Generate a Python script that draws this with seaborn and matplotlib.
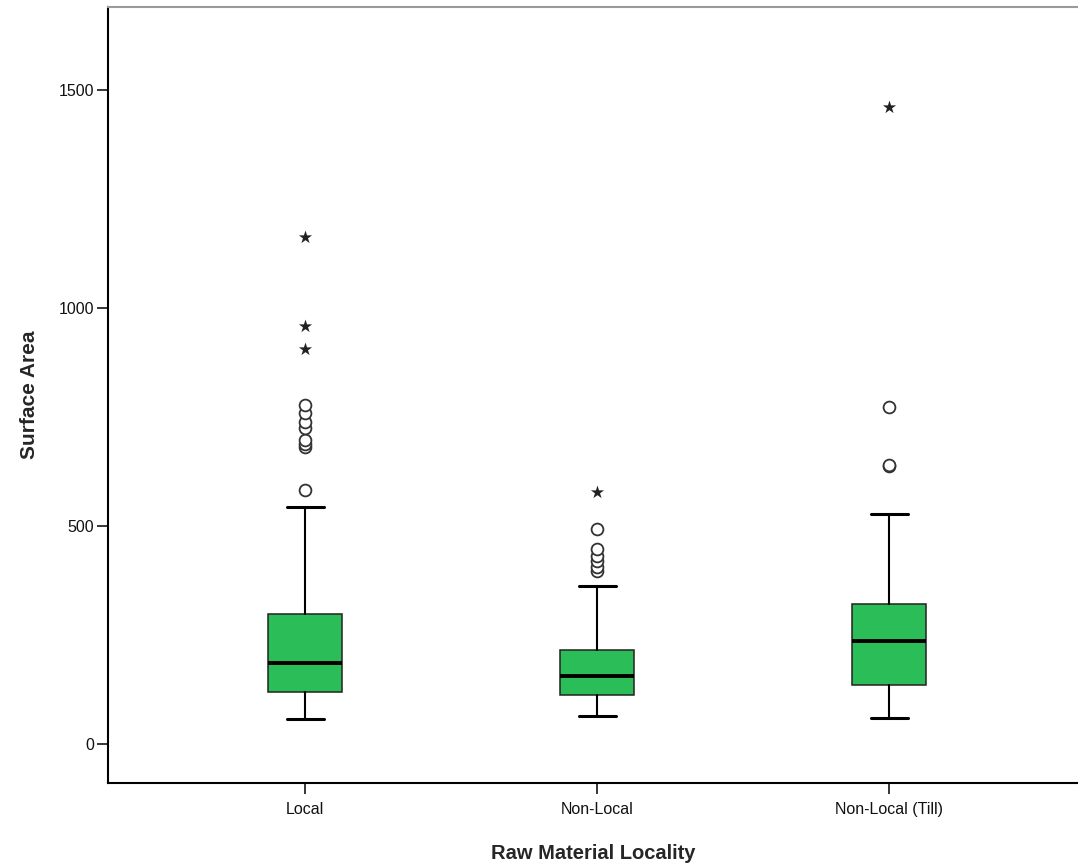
import matplotlib
matplotlib.use("Agg")
import matplotlib.pyplot as plt
import seaborn as sns
import pandas as pd

# ---- data ----
categories = ["Local", "Non-Local", "Non-Local (Till)"]
q1 = [120, 112, 135]
medians = [186, 156, 236]
q3 = [298, 216, 321]
whisker_low = [57, 64, 59]
whisker_high = [544, 362, 528]

local_outliers = [583, 681, 688, 697, 725, 739, 759, 778]
local_extremes = [906, 959, 1163]
nonlocal_outliers = [397, 406, 420, 432, 448, 494]
nonlocal_extremes = [577]
till_outliers = [638, 640, 774]
till_extremes = [1461]

y_ticks = [0, 500, 1000, 1500]

# ---- styling ----
sns.set_style("white")
plt.rcParams["font.family"] = ["Liberation Sans", "DejaVu Sans"]

green = "#2BBE58"

fig = plt.figure(figsize=(10.78, 8.65), dpi=100)
ax = fig.add_axes([0.1002, 0.0948, 0.8998, 0.8971])

stats = []
for i, cat in enumerate(categories):
    stats.append(dict(label=cat, q1=q1[i], med=medians[i], q3=q3[i],
                      whislo=whisker_low[i], whishi=whisker_high[i], fliers=[]))

ax.bxp(stats, positions=[0, 1, 2], widths=0.253, patch_artist=True,
       showfliers=False,
       boxprops=dict(facecolor=green, edgecolor="#222222", linewidth=1.1),
       whiskerprops=dict(color="black", linewidth=1.5),
       capprops=dict(color="black", linewidth=2.2),
       medianprops=dict(color="black", linewidth=2.8))

out_df = pd.DataFrame({
    "cat": ["Local"] * len(local_outliers) + ["Non-Local"] * len(nonlocal_outliers)
           + ["Non-Local (Till)"] * len(till_outliers),
    "val": local_outliers + nonlocal_outliers + till_outliers,
})
ext_df = pd.DataFrame({
    "cat": ["Local"] * len(local_extremes) + ["Non-Local"] * len(nonlocal_extremes)
           + ["Non-Local (Till)"] * len(till_extremes),
    "val": local_extremes + nonlocal_extremes + till_extremes,
})

sns.stripplot(data=out_df, x="cat", y="val", order=categories, jitter=False,
              marker="o", color="white", edgecolor="#333333", linewidth=1.3,
              size=8.5, ax=ax, zorder=5)
sns.stripplot(data=ext_df, x="cat", y="val", order=categories, jitter=False,
              marker="*", color="#222222", linewidth=0, size=10, ax=ax, zorder=5)

ax.set_xlim(-0.675, 2.647)
ax.set_ylim(-89, 1690)
ax.set_yticks(y_ticks)
ax.set_yticklabels([str(v) for v in y_ticks])
ax.set_xticks([0, 1, 2])
ax.set_xticklabels(categories)

ax.tick_params(axis="both", direction="out", length=8, width=1.1, color="black",
               labelsize=11.5, labelcolor="#111111", left=True, bottom=True)
ax.tick_params(axis="x", pad=6)
ax.tick_params(axis="y", pad=2)

for side in ["left", "bottom"]:
    ax.spines[side].set_color("black")
    ax.spines[side].set_linewidth(1.5)
ax.spines["top"].set_color("#9a9a9a")
ax.spines["top"].set_linewidth(1.5)
ax.spines["right"].set_visible(False)

ax.set_xlabel("Raw Material Locality", fontsize=14.5, fontweight="bold", labelpad=19)
ax.set_ylabel("Surface Area", fontsize=15, fontweight="bold", labelpad=14)
ax.grid(False)

fig.savefig("out.png", dpi=100)
